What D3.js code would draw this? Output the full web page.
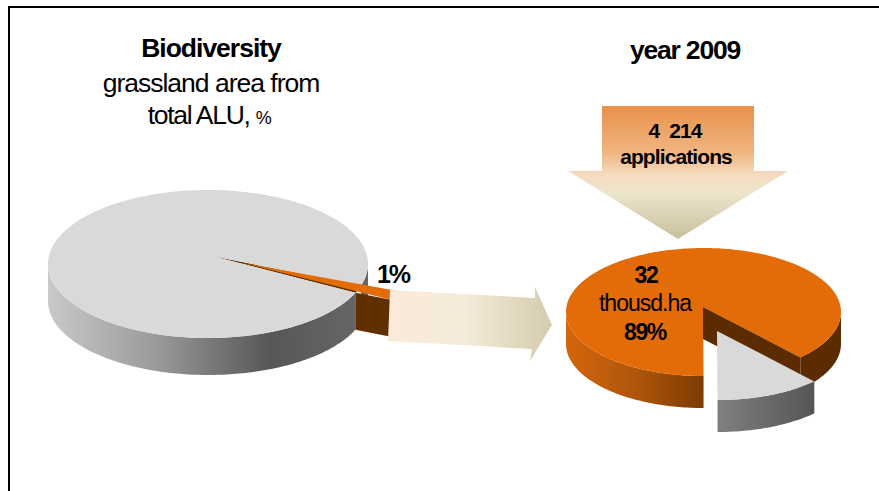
<!DOCTYPE html>
<html>
<head>
<meta charset="utf-8">
<script src="https://d3js.org/d3.v7.min.js"></script>
<style>
  html, body { margin: 0; padding: 0; background: #fff; }
  svg { display: block; }
  text { font-family: "Liberation Sans", Arial, sans-serif; fill: #000; text-anchor: middle; }
</style>
</head>
<body>
<svg id="main-canvas" width="879" height="491"></svg>
<script>
// values
var grasslandLabels = ["other ALU", "grassland"]
var grasslandShares = [99, 1]
var applicationLabels = ["applied", "not applied"]
var applicationShares = [89, 11]

var leftTitle = "Biodiversity"
var leftSubtitle = ["grassland area from", "total ALU, "]
var leftUnit = "%"
var rightTitle = "year 2009"
var arrowLines = ["4  214", "applications"]
var pieLines = ["32", "thousd.ha", "89%"]
var smallShareLabel = "1%"

// geometry of the two fake-3D pies; spread widens the small slice like the perspective does
var leftPie = { cx: 208, cy: 264, rx: 160, ry: 74, depth: 37, apexX: 4, apexY: -8, mid: 110, spread: 1.6, pull: 1.24 }
var rightPie = { cx: 703.5, cy: 312, rx: 137.5, ry: 64, depth: 32, apexX: -0.5, apexY: -5, mid: 157.6, spread: 1.13, moveX: 14, moveY: 24 }

var svg = d3.select("#main-canvas")
var defs = svg.append("defs")
var line = d3.line()

function addGradient(id, vertical, stops) {
    var g = defs.append("linearGradient")
                .attr("id", id)
                .attr("x1", 0).attr("y1", 0)
                .attr("x2", vertical ? 0 : 1).attr("y2", vertical ? 1 : 0)
    stops.forEach(function (s) {
        g.append("stop").attr("offset", s[0]).attr("stop-color", s[1])
    })
}

addGradient("gray-wall", false, [[0, "#c9c9c9"], [0.35, "#9a9a9a"], [0.72, "#575757"], [1, "#666666"]])
addGradient("orange-wall", false, [[0, "#d2660c"], [0.5, "#b0560a"], [1, "#7c3b02"]])
addGradient("gray-slice-wall", false, [[0, "#808080"], [1, "#555555"]])
addGradient("right-arrow", false, [[0, "#fce9d9"], [0.45, "#f5ecdc"], [1, "#d5cbad"]])
addGradient("down-arrow", true, [[0, "#e8914a"], [0.35, "#f0b581"], [0.52, "#f5dcc0"], [0.65, "#ede5cc"], [1, "#c8bf9f"]])

// screen position of a point on the pie rim, angle in radians clockwise from north
function rimPoint(p, angle, r) {
    r = r || 1
    return [p.cx + (p.moveX || 0) + r * p.rx * Math.sin(angle),
            p.cy + (p.moveY || 0) - r * p.ry * Math.cos(angle)]
}

function rimPoints(p, a0, a1, r) {
    var n = Math.max(2, Math.ceil(Math.abs(a1 - a0) / 0.02))
    return d3.range(n + 1).map(function (i) {
        return rimPoint(p, a0 + (a1 - a0) * i / n, r)
    })
}

function apexPoint(p) {
    return [p.cx + (p.moveX || 0) + p.apexX, p.cy + (p.moveY || 0) + p.apexY]
}

function drawTop(p, a0, a1, fill) {
    svg.append("path")
       .attr("d", line([apexPoint(p)].concat(rimPoints(p, a0, a1))) + "Z")
       .attr("fill", fill)
}

function drawWall(p, a0, a1, fill) {
    var top = rimPoints(p, a0, a1)
    var bottom = top.map(function (q) { return [q[0], q[1] + p.depth] }).reverse()
    svg.append("path")
       .attr("d", line(top.concat(bottom)) + "Z")
       .attr("fill", fill)
}

// pie angles of the small slice, widened around its drawn middle
function smallSlice(values, p) {
    var share = values[1] / d3.sum(values) * 2 * Math.PI
    var mid = p.mid * Math.PI / 180
    var arcs = d3.pie().sort(null)
                 .startAngle(mid + share / 2)
                 .endAngle(mid + share / 2 + 2 * Math.PI)(values)
    var half = (arcs[1].endAngle - arcs[1].startAngle) / 2 * p.spread
    return { start: mid - half, end: mid + half }
}

var EAST = Math.PI / 2
var WEST = Math.PI * 1.5

// frame
svg.append("path")
   .attr("d", line([[9, 491], [9, 7], [879, 7]]))
   .attr("fill", "none")
   .attr("stroke", "#000")
   .attr("stroke-width", 2)

// left pie
var ls = smallSlice(grasslandShares, leftPie)
drawWall(leftPie, EAST, ls.start, "#666666")
drawWall(leftPie, ls.end, WEST, "url(#gray-wall)")
drawTop(leftPie, ls.start, ls.end, "#5f2f00")
drawTop(leftPie, ls.end, ls.start + 2 * Math.PI, "#d9d9d9")

var leftCutEnd = rimPoint(leftPie, ls.end)
var leftOuter = rimPoint(leftPie, ls.end, leftPie.pull)
svg.append("path")
   .attr("d", line([leftCutEnd, leftOuter,
                    [leftOuter[0], leftOuter[1] + leftPie.depth],
                    [leftCutEnd[0], leftCutEnd[1] + leftPie.depth]]) + "Z")
   .attr("fill", "#5f2f00")
// the orange only shows from a bit along the cut, the tip stays a dark sliver
var leftApex = apexPoint(leftPie)
var leftFar = rimPoint(leftPie, ls.start, leftPie.pull)
var orangeTip = d3.interpolate(leftApex, rimPoint(leftPie, (ls.start + ls.end) / 2))(0.2)
svg.append("path")
   .attr("d", line([orangeTip, leftFar, leftOuter]) + "Z")
   .attr("fill", "#e36c09")

// right pie
var rs = smallSlice(applicationShares, rightPie)
var orangePart = { cx: rightPie.cx, cy: rightPie.cy, rx: rightPie.rx, ry: rightPie.ry, depth: rightPie.depth,
                   apexX: rightPie.apexX, apexY: rightPie.apexY }
drawWall(orangePart, EAST, rs.start, "#5c2c00")
drawWall(orangePart, rs.end, WEST, "url(#orange-wall)")
drawTop(orangePart, rs.end, rs.start + 2 * Math.PI, "#e36c09")

var orangeApex = apexPoint(orangePart)
var orangeCut = rimPoint(orangePart, rs.start)
svg.append("path")
   .attr("d", line([orangeApex, orangeCut,
                    [orangeCut[0], orangeCut[1] + rightPie.depth],
                    [orangeApex[0], orangeApex[1] + rightPie.depth]]) + "Z")
   .attr("fill", "#5c2c00")

drawWall(rightPie, rs.start, rs.end, "url(#gray-slice-wall)")
drawTop(rightPie, rs.start, rs.end, "#d9d9d9")

// block arrows
svg.append("path")
   .attr("d", line([[390, 290], [535, 298], [535, 287], [552, 325], [530, 361], [532, 349], [388, 341]]) + "Z")
   .attr("fill", "url(#right-arrow)")
svg.append("path")
   .attr("d", line([[602, 106], [754, 106], [754, 171], [788, 171], [678, 239], [568, 171], [602, 171]]) + "Z")
   .attr("fill", "url(#down-arrow)")

// texts
function addText(str, x, y, size, bold, spacing) {
    return svg.append("text")
              .attr("x", x)
              .attr("y", y)
              .attr("font-size", size)
              .attr("font-weight", bold ? "bold" : "normal")
              .attr("letter-spacing", spacing || 0)
              .text(str)
}

addText(leftTitle, 211, 57, 26.5, true, -1)
addText(leftSubtitle[0], 211, 92, 26.5, false, -1)
var sub = addText(leftSubtitle[1], 209, 124, 26.5, false, -1.3)
sub.append("tspan").attr("font-size", 18).text(leftUnit)
addText(rightTitle, 685, 59, 26.5, true, -1.2)
addText(arrowLines[0], 675, 138, 21, true, -0.9).attr("xml:space", "preserve")
addText(arrowLines[1], 676, 164, 21, true, -0.9)
addText(pieLines[0], 646, 283, 23, true, -1.4)
addText(pieLines[1], 645, 311, 23, false, -1)
addText(pieLines[2], 645, 340, 23, true, -1.4)
addText(smallShareLabel, 393, 283, 25, true, -2)
</script>
</body>
</html>
